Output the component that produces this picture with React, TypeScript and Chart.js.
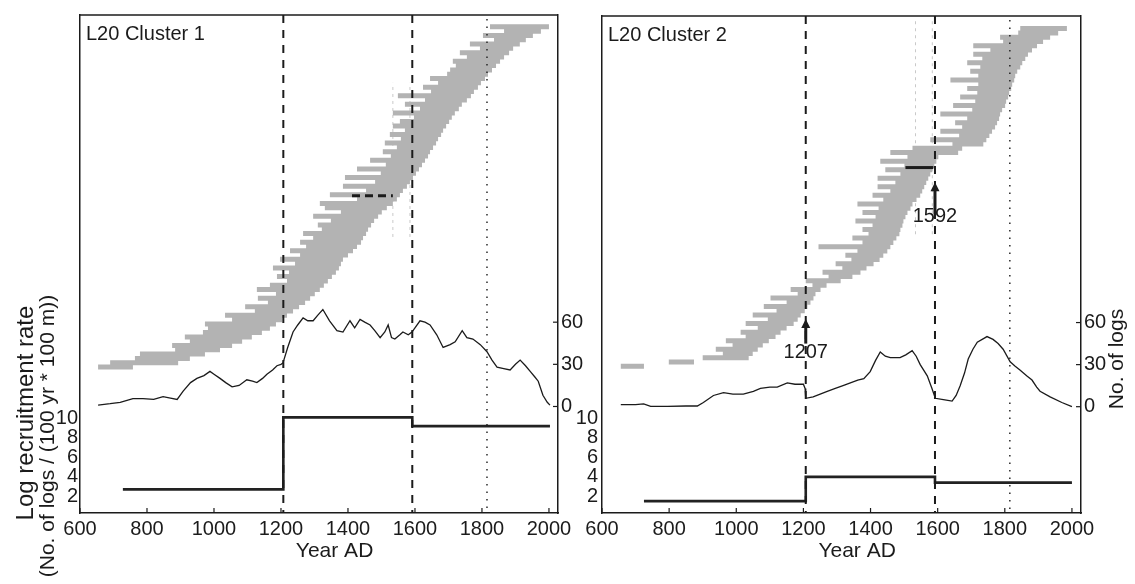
import React, { useEffect, useRef } from "react";
import { Chart, registerables } from "chart.js";

Chart.register(...registerables);

const FONT = "'Liberation Sans', Arial, Helvetica, sans-serif";
const INK = "#1b1b1b";
const LOG_GREY = "#b3b3b3";

// Axis ticks
const yearTicks = [600, 800, 1000, 1200, 1400, 1600, 1800, 2000];
const rateTicks = [2, 4, 6, 8, 10];
const countTicks = [0, 30, 60];

// ---------- L20 Cluster 1 ----------
// One row per log (bottom row first): first and last ring year
const c1LogStart = [
  654, 690, 764, 779, 884, 875, 928, 913, 967, 982,
  973, 1054, 1033, 1122, 1093, 1161, 1131, 1185, 1128, 1167,
  1218, 1188, 1224, 1176, 1242, 1197, 1257, 1227, 1275, 1257,
  1296, 1266, 1322, 1310, 1349, 1296, 1379, 1331, 1316, 1427,
  1346, 1454, 1385, 1481, 1391, 1498, 1427, 1513, 1466, 1528,
  1504, 1546, 1510, 1558, 1525, 1570, 1534, 1555, 1597, 1534,
  1615, 1570, 1630, 1549, 1648, 1624, 1669, 1645, 1696, 1705,
  1722, 1713, 1755, 1734, 1794, 1764, 1836, 1803, 1866, 1824,
];
const c1LogEnd = [
  758, 893, 928, 973, 1018, 1054, 1084, 1113, 1143, 1167,
  1185, 1203, 1218, 1236, 1254, 1272, 1287, 1301, 1316, 1328,
  1340, 1352, 1364, 1373, 1379, 1385, 1400, 1415, 1427, 1439,
  1445, 1454, 1460, 1469, 1478, 1490, 1501, 1516, 1534, 1546,
  1555, 1564, 1576, 1585, 1594, 1603, 1612, 1621, 1630, 1639,
  1645, 1654, 1663, 1669, 1678, 1684, 1693, 1702, 1710, 1719,
  1731, 1740, 1755, 1767, 1776, 1788, 1797, 1809, 1818, 1830,
  1842, 1854, 1866, 1881, 1893, 1913, 1931, 1952, 1976, 2000,
];
// Number of logs present through time
const c1CountYears = [
  654, 690, 720, 758, 788, 820, 848, 870, 890, 908, 930, 949, 970, 988, 1000,
  1018, 1035, 1054, 1075, 1098, 1115, 1128, 1145, 1158, 1175, 1188, 1200, 1206,
  1220, 1236, 1250, 1266, 1280, 1296, 1310, 1325, 1345, 1367, 1385, 1406, 1420,
  1436, 1450, 1466, 1480, 1496, 1510, 1520, 1530, 1540, 1555, 1564, 1580, 1591,
  1600, 1615, 1630, 1645, 1665, 1684, 1705, 1720, 1741, 1755, 1773, 1795, 1815,
  1830, 1845, 1865, 1884, 1900, 1914, 1930, 1944, 1958, 1968, 1982, 1995, 2003,
];
const c1Count = [
  1, 2, 3, 5.6, 5.6, 5, 7, 6, 5, 11, 17, 20, 22, 25, 23,
  20, 17, 14, 15, 19, 18, 17, 20, 23, 26, 29, 30, 31,
  42, 53, 58, 63, 61, 61, 65, 69, 61, 54, 53, 61, 56,
  62, 60, 58, 54, 49, 53, 58, 49, 48, 51, 53, 51, 53,
  56, 61, 60, 58, 51, 42, 44, 46, 54, 49, 48, 44, 39,
  33, 28, 27, 26, 30, 33, 29, 25, 21, 18, 8, 3, 1,
];
// Log recruitment rate per period
const c1RateYears = [728, 1207, 1592, 2003];
const c1Rate = [2.7, 10.1, 9.2, 9.2];
const c1Breaks = [1207, 1592];
const c1RefYear = 1815;
const c1MarkYears = [1412, 1534];
const c1MarkRow = 39.8;
const c1CiYears = [1534, 1585];
const c1CiRows = [30.2, 66];

// ---------- L20 Cluster 2 ----------
const c2LogStart = [
  656, 799, 900, 960, 939, 989, 969, 1028, 1013, 1064,
  1028, 1094, 1049, 1120, 1082, 1150, 1102, 1183, 1162, 1227,
  1207, 1275, 1257, 1316, 1296, 1343, 1325, 1361, 1245, 1376,
  1346, 1394, 1376, 1406, 1355, 1415, 1376, 1424, 1361, 1438,
  1406, 1459, 1421, 1474, 1421, 1489, 1444, 1501, 1429, 1510,
  1459, 1525, 1644, 1578, 1664, 1608, 1673, 1652, 1688, 1608,
  1703, 1646, 1712, 1667, 1718, 1688, 1721, 1638, 1721, 1697,
  1727, 1688, 1733, 1706, 1757, 1706, 1795, 1786, 1840, 1846,
];
const c2LogEnd = [
  725, 874, 1037, 1049, 1064, 1079, 1097, 1117, 1132, 1150,
  1171, 1183, 1192, 1204, 1212, 1221, 1230, 1236, 1251, 1269,
  1311, 1346, 1370, 1388, 1409, 1427, 1438, 1450, 1459, 1468,
  1477, 1486, 1489, 1495, 1498, 1504, 1510, 1519, 1525, 1537,
  1548, 1554, 1560, 1566, 1572, 1578, 1584, 1590, 1596, 1602,
  1661, 1673, 1736, 1745, 1754, 1762, 1771, 1777, 1783, 1786,
  1792, 1801, 1804, 1810, 1813, 1819, 1822, 1828, 1831, 1837,
  1846, 1852, 1861, 1869, 1881, 1896, 1914, 1935, 1959, 1985,
];
const c2CountYears = [
  656, 700, 724, 745, 795, 850, 884, 902, 932, 962, 990, 1021, 1051, 1072,
  1100, 1122, 1152, 1175, 1200, 1205, 1207, 1229, 1250, 1271, 1295, 1318,
  1340, 1362, 1380, 1399, 1415, 1429, 1444, 1459, 1474, 1488, 1505, 1524,
  1536, 1548, 1569, 1583, 1593, 1617, 1643, 1655, 1667, 1680, 1691, 1705,
  1718, 1747, 1765, 1780, 1795, 1816, 1830, 1846, 1865, 1881, 1895, 1905,
  1935, 1970, 2000,
];
const c2Count = [
  1.5, 1.5, 2, 0.3, 0.3, 0.5, 0.5, 3, 8, 10, 9, 9, 11, 13,
  14, 14, 17, 16, 16, 13, 6, 7, 9, 11, 13, 15,
  17, 19, 20, 25, 33, 39, 36, 35, 35, 35, 37, 40,
  36, 30, 22, 13, 6, 5, 4, 8, 15, 24, 34, 41,
  46, 50, 48, 45, 41, 32, 29, 26, 22, 19, 14, 11,
  7, 3, 0,
];
const c2RateYears = [725, 1207, 1592, 2000];
const c2Rate = [1.5, 4.0, 3.4, 3.4];
const c2Breaks = [1207, 1592];
const c2RefYear = 1815;
const c2MarkYears = [1504, 1587];
const c2MarkRow = 46.5;
const c2CiYears = [1534, 1584];
const c2CiRows = [30.9, 81.3];
// Change-point arrows (tip, tail and label height in log counts)
const c2ArrowYears = [1207, 1592];
const c2ArrowTip = [62.5, 160];
const c2ArrowTail = [45, 137];
const c2ArrowLabelAt = [38.5, 135.5];

type Spec = {
  title: string;
  logStart: number[];
  logEnd: number[];
  rowMin: number;
  rowMax: number;
  countYears: number[];
  counts: number[];
  rateYears: number[];
  rates: number[];
  breaks: number[];
  refYear: number;
  markYears: number[];
  markRow: number;
  markDashed: boolean;
  ciYears: number[];
  ciRows: number[];
  arrowYears: number[];
  arrowTip: number[];
  arrowTail: number[];
  arrowLabelAt: number[];
  leftWidth: number;
  rightWidth: number;
  rateTickPad: number;
  leftTitle: boolean;
  rightTitle: boolean;
};

function makeDecor(spec: Spec) {
  return {
    id: "decor",
    beforeDatasetsDraw(chart: any) {
      const { ctx, scales } = chart;
      const x = scales.x;
      const rows = scales.yRows;
      ctx.save();
      ctx.strokeStyle = "#c9c9c9";
      ctx.lineWidth = 1;
      ctx.setLineDash([3, 4]);
      for (const yr of spec.ciYears) {
        const px = x.getPixelForValue(yr);
        ctx.beginPath();
        ctx.moveTo(px, rows.getPixelForValue(spec.ciRows[0]));
        ctx.lineTo(px, rows.getPixelForValue(spec.ciRows[1]));
        ctx.stroke();
      }
      ctx.restore();
    },
    afterDatasetsDraw(chart: any) {
      const { ctx, chartArea: a, scales } = chart;
      const x = scales.x;
      const count = scales.yCount;
      ctx.save();
      ctx.strokeStyle = INK;
      ctx.fillStyle = INK;

      // top edge of the frame
      ctx.lineWidth = 1.5;
      ctx.beginPath();
      ctx.moveTo(a.left, a.top);
      ctx.lineTo(a.right, a.top);
      ctx.stroke();

      // inward tick marks
      ctx.lineWidth = 1.2;
      for (const v of yearTicks) {
        const px = x.getPixelForValue(v);
        ctx.beginPath();
        ctx.moveTo(px, a.bottom);
        ctx.lineTo(px, a.bottom - 5);
        ctx.stroke();
      }
      for (const v of countTicks) {
        const py = count.getPixelForValue(v);
        ctx.beginPath();
        ctx.moveTo(a.right, py);
        ctx.lineTo(a.right - 5, py);
        ctx.stroke();
      }

      // change points
      ctx.lineWidth = 2;
      ctx.setLineDash([8, 7]);
      for (const b of spec.breaks) {
        const px = x.getPixelForValue(b);
        ctx.beginPath();
        ctx.moveTo(px, a.top);
        ctx.lineTo(px, a.bottom);
        ctx.stroke();
      }
      // reference year
      ctx.lineWidth = 1.4;
      ctx.setLineDash([1.5, 6]);
      {
        const px = x.getPixelForValue(spec.refYear);
        ctx.beginPath();
        ctx.moveTo(px, a.top + 4);
        ctx.lineTo(px, a.bottom);
        ctx.stroke();
      }
      ctx.setLineDash([]);

      // arrows with year labels
      ctx.font = `20px ${FONT}`;
      spec.arrowYears.forEach((yr, i) => {
        const px = x.getPixelForValue(yr);
        const tip = count.getPixelForValue(spec.arrowTip[i]);
        const tail = count.getPixelForValue(spec.arrowTail[i]);
        ctx.lineWidth = 3;
        ctx.beginPath();
        ctx.moveTo(px, tail);
        ctx.lineTo(px, tip + 7);
        ctx.stroke();
        ctx.beginPath();
        ctx.moveTo(px, tip);
        ctx.lineTo(px - 4.5, tip + 9);
        ctx.lineTo(px + 4.5, tip + 9);
        ctx.closePath();
        ctx.fill();
        ctx.textAlign = "center";
        ctx.textBaseline = "middle";
        ctx.fillText(String(yr), px, count.getPixelForValue(spec.arrowLabelAt[i]));
      });

      // panel title
      ctx.textAlign = "left";
      ctx.textBaseline = "alphabetic";
      ctx.font = `20px ${FONT}`;
      ctx.fillText(spec.title, a.left + 6, a.top + 25);

      // axis titles
      ctx.font = `21px ${FONT}`;
      ctx.textAlign = "center";
      ctx.fillText("Year AD", x.getPixelForValue(1360), 557);

      ctx.textBaseline = "middle";
      if (spec.leftTitle) {
        ctx.save();
        ctx.font = `24px ${FONT}`;
        ctx.translate(26, 413);
        ctx.rotate(-Math.PI / 2);
        ctx.fillText("Log recruitment rate", 0, 0);
        ctx.restore();
        ctx.save();
        ctx.translate(48, 436);
        ctx.rotate(-Math.PI / 2);
        ctx.fillText("(No. of logs / (100 yr * 100 m))", 0, 0);
        ctx.restore();
      }
      if (spec.rightTitle) {
        ctx.save();
        ctx.translate(a.right + 36, 359);
        ctx.rotate(-Math.PI / 2);
        ctx.fillText("No. of logs", 0, 0);
        ctx.restore();
      }
      ctx.restore();
    },
  };
}

function Panel({ spec, left, width }: { spec: Spec; left: number; width: number }) {
  const ref = useRef<HTMLCanvasElement>(null);

  useEffect(() => {
    const canvas = ref.current;
    if (!canvas) return;

    const logRows: any[] = [];
    spec.logStart.forEach((s, k) => {
      logRows.push({ x: s, y: k }, { x: spec.logEnd[k], y: k }, { x: spec.logEnd[k], y: null });
    });

    const tickFont = { family: FONT, size: 20 };
    const fixed = (vals: number[]) => (s: any) => {
      s.ticks = vals.map((v) => ({ value: v }));
    };
    const plain = (v: any) => String(v);

    const chart = new Chart(canvas, {
      type: "line",
      data: {
        datasets: [
          {
            label: "mark",
            data: spec.markYears.map((v) => ({ x: v, y: spec.markRow })),
            yAxisID: "yRows",
            borderColor: INK,
            borderWidth: 3,
            borderDash: spec.markDashed ? [8, 5] : [],
            pointRadius: 0,
            order: 0,
          },
          {
            label: "rate",
            data: spec.rateYears.map((v, i) => ({ x: v, y: spec.rates[i] })),
            yAxisID: "yRate",
            stepped: "before",
            borderColor: "#222",
            borderWidth: 2.6,
            pointRadius: 0,
            order: 1,
          },
          {
            label: "count",
            data: spec.countYears.map((v, i) => ({ x: v, y: spec.counts[i] })),
            yAxisID: "yCount",
            borderColor: INK,
            borderWidth: 1.3,
            pointRadius: 0,
            tension: 0,
            order: 2,
          },
          {
            label: "logs",
            data: logRows,
            yAxisID: "yRows",
            borderColor: LOG_GREY,
            borderWidth: 5,
            borderCapStyle: "butt",
            pointRadius: 0,
            spanGaps: false,
            order: 3,
          },
        ],
      } as any,
      options: {
        animation: false,
        responsive: false,
        events: [],
        layout: { padding: { top: 8, left: 0, right: 0, bottom: 0 } },
        plugins: {
          legend: { display: false },
          tooltip: { enabled: false },
        },
        scales: {
          x: {
            type: "linear",
            axis: "x",
            min: 600,
            max: 2027,
            afterBuildTicks: fixed(yearTicks),
            afterFit: (s: any) => {
              s.height = 71;
            },
            grid: { display: false, drawTicks: false },
            border: { display: true, color: INK, width: 1.5 },
            ticks: { font: tickFont, color: INK, padding: 4, maxRotation: 0, autoSkip: false, callback: plain },
          },
          yRate: {
            type: "linear",
            axis: "y",
            position: "left",
            min: 0.28,
            max: 51.4,
            afterBuildTicks: fixed(rateTicks),
            afterFit: (s: any) => {
              s.width = spec.leftWidth;
            },
            grid: { display: false, drawTicks: false },
            border: { display: true, color: INK, width: 1.5 },
            ticks: { font: tickFont, color: INK, padding: spec.rateTickPad, callback: plain },
          },
          yCount: {
            type: "linear",
            axis: "y",
            position: "right",
            min: -75.8,
            max: 278.6,
            afterBuildTicks: fixed(countTicks),
            afterFit: (s: any) => {
              s.width = spec.rightWidth;
            },
            grid: { display: false, drawTicks: false },
            border: { display: true, color: INK, width: 1.5 },
            ticks: { font: tickFont, color: INK, padding: 3, callback: plain },
          },
          yRows: {
            type: "linear",
            axis: "y",
            position: "left",
            display: false,
            min: spec.rowMin,
            max: spec.rowMax,
          },
        },
      } as any,
      plugins: [makeDecor(spec)],
    });

    return () => chart.destroy();
  }, [spec]);

  return (
    <canvas
      ref={ref}
      width={width}
      height={584}
      style={{ position: "absolute", left, top: 0, width, height: 584 }}
    />
  );
}

const cluster1: Spec = {
  title: "L20 Cluster 1",
  logStart: c1LogStart,
  logEnd: c1LogEnd,
  rowMin: -33.9,
  rowMax: 81.75,
  countYears: c1CountYears,
  counts: c1Count,
  rateYears: c1RateYears,
  rates: c1Rate,
  breaks: c1Breaks,
  refYear: c1RefYear,
  markYears: c1MarkYears,
  markRow: c1MarkRow,
  markDashed: true,
  ciYears: c1CiYears,
  ciRows: c1CiRows,
  arrowYears: [],
  arrowTip: [],
  arrowTail: [],
  arrowLabelAt: [],
  leftWidth: 80,
  rightWidth: 42,
  rateTickPad: 2,
  leftTitle: true,
  rightTitle: false,
};

const cluster2: Spec = {
  title: "L20 Cluster 2",
  logStart: c2LogStart,
  logEnd: c2LogEnd,
  rowMin: -34.3,
  rowMax: 81.95,
  countYears: c2CountYears,
  counts: c2Count,
  rateYears: c2RateYears,
  rates: c2Rate,
  breaks: c2Breaks,
  refYear: c2RefYear,
  markYears: c2MarkYears,
  markRow: c2MarkRow,
  markDashed: false,
  ciYears: c2CiYears,
  ciRows: c2CiRows,
  arrowYears: c2ArrowYears,
  arrowTip: c2ArrowTip,
  arrowTail: c2ArrowTail,
  arrowLabelAt: c2ArrowLabelAt,
  leftWidth: 42,
  rightWidth: 54,
  rateTickPad: 4,
  leftTitle: false,
  rightTitle: true,
};

export default function App() {
  return (
    <div
      style={{
        position: "absolute",
        left: 0,
        top: 0,
        width: 1135,
        height: 584,
        background: "#ffffff",
        overflow: "hidden",
      }}
    >
      <Panel spec={cluster1} left={0} width={600} />
      <Panel spec={cluster2} left={560} width={575} />
    </div>
  );
}
